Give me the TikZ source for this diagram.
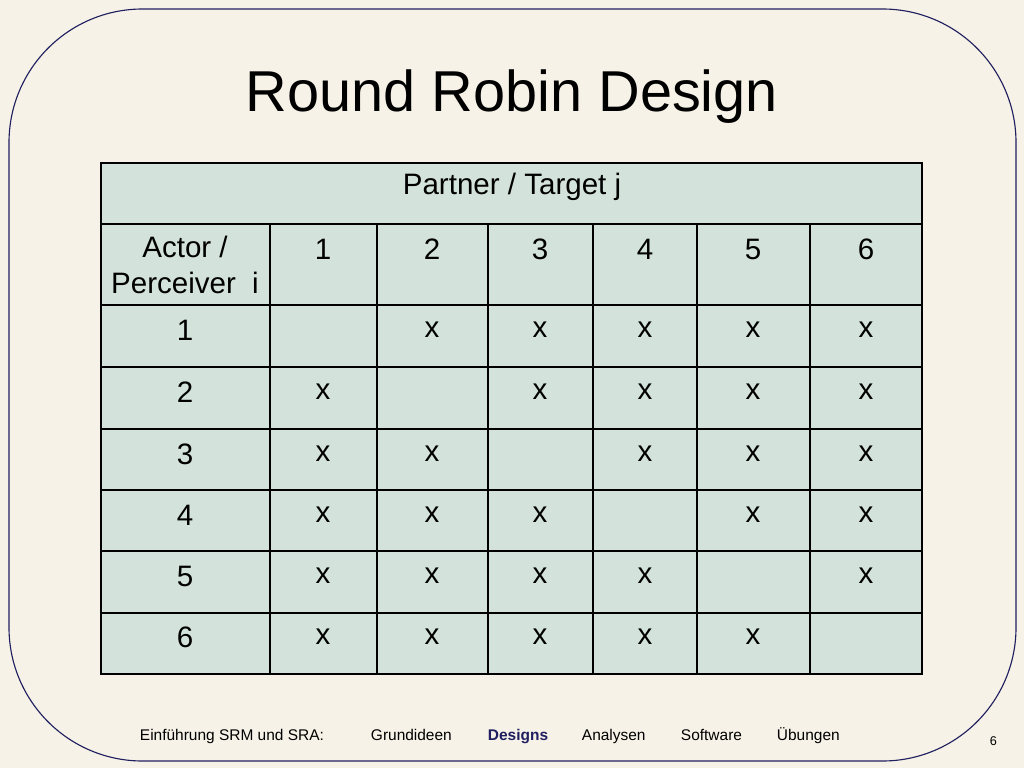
\documentclass[tikz,border=0pt]{standalone}
\usepackage{fontspec}
\setmainfont{Liberation Sans}
\definecolor{paper}{HTML}{F6F2E7}
\definecolor{cellfill}{HTML}{D3E3DB}
\definecolor{frame}{HTML}{1F1F5F}
\tikzset{
  cell/.style={font=\fontsize{21}{25}\selectfont},
  foot/.style={font=\fontsize{11}{13}\selectfont, anchor=base west},
}
\begin{document}
\begin{tikzpicture}[x=0.025cm, y=-0.025cm]
			\fill[paper] (0,0) rectangle (1024,768);
			\useasboundingbox (0,0) rectangle (1024,768);
			\draw[frame, thick, rounded corners=95pt] (9,9) rectangle (1016,761);
			\node[font=\fontsize{41}{48}\selectfont] (title) at (512,97) {Round Robin Design};
			\filldraw[fill=cellfill, thick] (101,163) rectangle (922,674);
			\draw[thick] (101,224) -- (922,224);
			\foreach \y in {305,367,429,490,551,613}{
				\draw[thick] (101,\y) -- (922,\y);
			}
			\foreach \x in {270,377,488,593,697,810}{
				\draw[thick] (\x,224) -- (\x,674);
			}
			\node[cell] (head) at (512,187) {Partner / Target j};
			\node[cell, align=center] (actor) at (185,265) {Actor /\\Perceiver\ \ i};
			\foreach \i\x in {1/323,2/432,3/540,4/645,5/753,6/866}{
				\node[cell] (c\i) at (\x,249) {\i};
			}
			\foreach \j\y in {1/330,2/392,3/454,4/515,5/576,6/637}{
				\node[cell] (r\j) at (185,\y) {\j};
				\foreach \i\x in {1/323,2/432,3/540,4/645,5/753,6/866}{
					\ifnum\i=\j\else
						\node[cell] (x\j\i) at (\x,\y) {x};
					\fi
				}
			}
			\node[foot] (f1) at (135,740) {Einführung SRM und SRA:};
			\node[foot] (f2) at (366,740) {Grundideen};
			\node[foot, font=\fontsize{11}{13}\selectfont\bfseries, text=frame] (f3) at (483,740) {Designs};
			\node[foot] (f4) at (577,740) {Analysen};
			\node[foot] (f5) at (676,740) {Software};
			\node[foot] (f6) at (772,740) {Übungen};
			\node[foot, font=\fontsize{9}{11}\selectfont] (page) at (985,745) {6};
		\end{tikzpicture}
\end{document}
